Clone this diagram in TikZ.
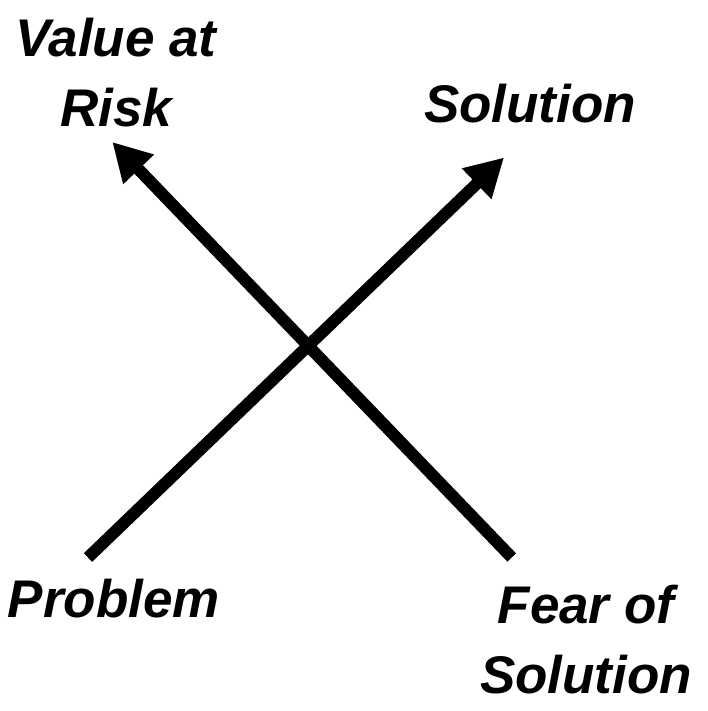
\documentclass[tikz,border=0pt]{standalone}
\usepackage{fontspec}
\setmainfont{Liberation Sans}
\usetikzlibrary{arrows.meta}
\begin{document}
\begin{tikzpicture}[x=1pt,y=-1pt,
  lbl/.style={inner sep=0pt, align=center, font=\fontsize{53}{70}\selectfont\bfseries\itshape},
  axis/.style={line width=12pt, line cap=butt, -{Triangle[length=38pt,width=40pt]}}]
  \useasboundingbox (0,0) rectangle (708,711);
  % labels (base anchor sits on the last line)
  \node[lbl, anchor=base] (var) at (116,127) {Value at\\Risk};
  \node[lbl, anchor=base] (sol) at (530,123) {Solution};
  \node[lbl, anchor=base] (prob) at (114,617) {Problem};
  \node[lbl, anchor=base] (fear) at (586,693) {Fear of\\Solution};
  % arrow end points
  \coordinate (pS) at (88,557.5);
  \coordinate (pT) at (504,157.5);
  \coordinate (fS) at (511.7,557.5);
  \coordinate (fT) at (112.3,142);
  % crossing arrows
  \draw[axis] (pS) -- (pT);
  \draw[axis] (fS) -- (fT);
\end{tikzpicture}
\end{document}
